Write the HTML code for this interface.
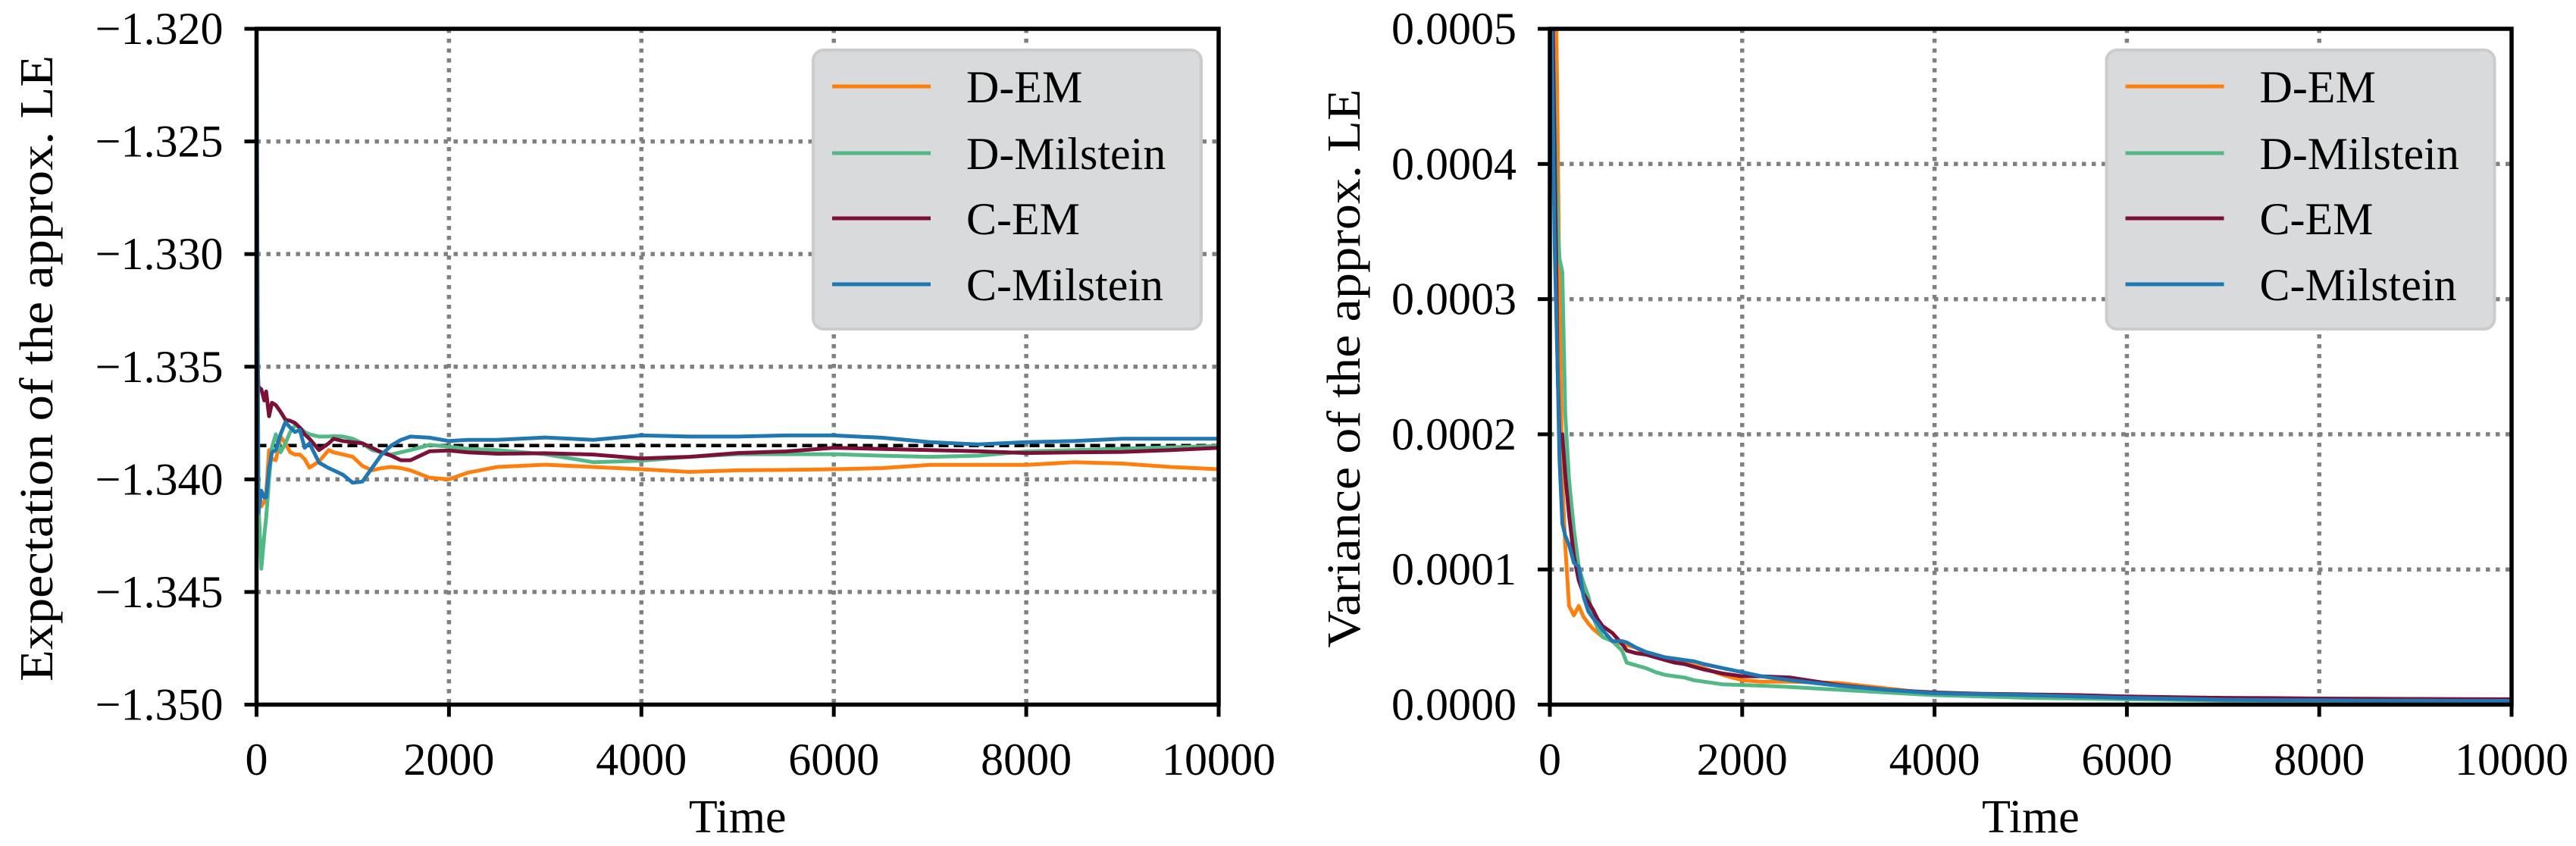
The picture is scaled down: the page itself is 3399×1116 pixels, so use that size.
<!DOCTYPE html>
<html><head><meta charset="utf-8"><style>
html,body{margin:0;padding:0;background:#fff;}
svg{display:block;font-family:"Liberation Serif",serif;}
</style></head><body>
<svg id="chart" width="3399" height="1116" viewBox="0 0 3399 1116" xmlns="http://www.w3.org/2000/svg"></svg>
<script>
const times = [0,20,50,80,100,130,160,200,250,300,350,400,450,500,550,650,750,800,900,1000,1100,1200,1300,1400,1500,1600,1800,2000,2200,2500,3000,3500,4000,4500,5000,5500,6000,6500,7000,7500,8000,8500,9000,9500,10000];
// expectation: thousandths below -1.320
const expDEM = [17,20.5,21.2,21,20.6,18.7,19.1,19.15,18.1,18.4,18.8,18.9,18.9,19.1,19.48,19.2,18.7,18.8,18.9,19.0,19.4,19.6,19.5,19.45,19.5,19.6,19.93,20.0,19.7,19.45,19.35,19.45,19.55,19.67,19.6,19.58,19.55,19.5,19.36,19.36,19.36,19.24,19.3,19.45,19.55];
const expDMil = [1,21,23.97,22.5,21.7,20.0,18.6,18.0,18.8,18.4,17.9,17.6,17.7,17.9,18.0,18.1,18.1,18.08,18.1,18.2,18.4,18.7,18.8,18.9,18.8,18.7,18.47,18.55,18.65,18.7,18.88,19.24,19.17,19.0,18.88,18.88,18.88,18.95,19.0,18.95,18.76,18.7,18.64,18.58,18.52];
const expCEM = [13,15.9,16.0,16.5,16.1,17.2,16.6,16.7,17.0,17.35,17.4,17.5,17.7,18.0,18.2,18.7,18.4,18.2,18.3,18.35,18.4,18.6,18.8,18.95,19.15,19.15,18.75,18.72,18.8,18.86,18.84,18.9,19.07,19.0,18.83,18.76,18.6,18.65,18.7,18.75,18.83,18.8,18.78,18.7,18.6];
const expCMil = [0,21.5,20.5,20.8,20.8,19.5,18.8,18.7,18.0,17.46,17.7,17.9,17.8,18.6,18.4,19.26,19.5,19.6,19.8,20.15,20.1,19.5,18.9,18.5,18.25,18.1,18.15,18.3,18.25,18.25,18.14,18.25,18.05,18.1,18.1,18.05,18.05,18.15,18.35,18.45,18.35,18.3,18.2,18.2,18.2];
const expRef = -1.3385;
// variance in units of 1e-4
const varDEM = [6,6,6,4.3,2.95,1.66,1.18,0.73,0.66,0.73,0.65,0.6,0.56,0.53,0.5,0.47,0.45,0.44,0.42,0.37,0.35,0.34,0.32,0.31,0.29,0.27,0.22,0.18,0.17,0.17,0.16,0.12,0.08,0.07,0.06,0.055,0.05,0.048,0.045,0.042,0.04,0.038,0.037,0.036,0.035];
const varDMil = [6,5.5,4.5,3.6,3.3,3.2,2.15,1.66,1.3,1.02,0.9,0.8,0.65,0.56,0.5,0.47,0.4,0.31,0.29,0.27,0.24,0.22,0.21,0.2,0.18,0.17,0.15,0.145,0.14,0.13,0.11,0.09,0.07,0.06,0.05,0.045,0.04,0.035,0.03,0.028,0.026,0.024,0.022,0.021,0.02];
const varCEM = [6,5.5,4.1,2.5,1.98,2.0,1.7,1.4,1.1,0.92,0.82,0.76,0.7,0.63,0.58,0.53,0.45,0.4,0.38,0.37,0.35,0.33,0.31,0.3,0.28,0.26,0.23,0.21,0.21,0.2,0.145,0.11,0.09,0.08,0.075,0.07,0.06,0.055,0.05,0.048,0.045,0.043,0.042,0.041,0.04];
const varCMil = [6,5.0,3.4,2.5,1.82,1.34,1.25,1.18,1.05,1.02,0.8,0.69,0.64,0.6,0.55,0.47,0.47,0.46,0.42,0.39,0.37,0.35,0.34,0.33,0.32,0.3,0.27,0.24,0.21,0.18,0.14,0.11,0.084,0.077,0.07,0.06,0.05,0.043,0.036,0.033,0.032,0.03,0.029,0.028,0.028];
const xTicks = [0,2000,4000,6000,8000,10000];
const xTickLabels = ["0","2000","4000","6000","8000","10000"];
const expTicks = [-1.350,-1.345,-1.340,-1.335,-1.330,-1.325,-1.320];
const expTickLabels = ["\u22121.350","\u22121.345","\u22121.340","\u22121.335","\u22121.330","\u22121.325","\u22121.320"];
const varTicks = [0,0.0001,0.0002,0.0003,0.0004,0.0005];
const varTickLabels = ["0.0000","0.0001","0.0002","0.0003","0.0004","0.0005"];
const seriesNames = ["D-EM","D-Milstein","C-EM","C-Milstein"];
const seriesColors = ["#ff7f0e","#52b886","#7b1038","#1f77b4"];

const NS="http://www.w3.org/2000/svg";
const svg=document.getElementById('chart');
function mk(tag,attrs,parent){const e=document.createElementNS(NS,tag);for(const k in attrs)e.setAttribute(k,attrs[k]);(parent||svg).appendChild(e);return e;}
const TOP=38, BOT=929.5;

function panel(key,left,right,ymin,ymax,yTicks,yLabels,series,yTitle,titleX,titleLen,refVal){
  const xs=t=>left+(t/10000)*(right-left);
  const ys=v=>BOT-(v-ymin)/(ymax-ymin)*(BOT-TOP);
  const g=mk('g',{});
  
  
  const clipId='clip-'+key;
  const cp=mk('clipPath',{id:clipId},g);
  mk('rect',{x:left,y:TOP,width:right-left,height:BOT-TOP},cp);
  // grid
  xTicks.forEach((t,i)=>{ if(i===0||i===xTicks.length-1) return;
    const l=mk('line',{x1:xs(t),x2:xs(t),y1:TOP,y2:BOT,stroke:'#808080','stroke-width':5.5,'stroke-dasharray':'5.5 7.5'},g);
    
    
  });
  yTicks.forEach((v,i)=>{ if(i===0||i===yTicks.length-1) return;
    const l=mk('line',{x1:left,x2:right,y1:ys(v),y2:ys(v),stroke:'#808080','stroke-width':5.5,'stroke-dasharray':'5.5 7.5'},g);
    
    
  });
  const pg=mk('g',{'clip-path':'url(#'+clipId+')'},g);
  if(refVal!==null){
    const r=mk('line',{x1:left,x2:right,y1:ys(refVal),y2:ys(refVal),stroke:'#000','stroke-width':4.5,'stroke-dasharray':'13 7'},pg);
    
    
  }
  series.forEach((vals,si)=>{
    const pts=times.map((t,i)=>xs(t).toFixed(1)+','+ys(vals[i]).toFixed(1)).join(' ');
    const p=mk('polyline',{points:pts,fill:'none',stroke:seriesColors[si],'stroke-width':5,'stroke-linejoin':'round'},pg);
    
    
  });
  // spines
  const sp=mk('rect',{x:left,y:TOP,width:right-left,height:BOT-TOP,fill:'none',stroke:'#000','stroke-width':5.5},g);
  
  
  // ticks
  xTicks.forEach((t,i)=>{
    mk('line',{x1:xs(t),x2:xs(t),y1:BOT,y2:BOT+16,stroke:'#000','stroke-width':5},g);
    const tx=mk('text',{x:xs(t),y:1022,'text-anchor':'middle','font-size':60},g);
    tx.textContent=xTickLabels[i];
    
    
  });
  yTicks.forEach((v,i)=>{
    mk('line',{x1:left-16,x2:left,y1:ys(v),y2:ys(v),stroke:'#000','stroke-width':5},g);
    const tx=mk('text',{x:left-44,y:ys(v)+20,'text-anchor':'end','font-size':60},g);
    tx.textContent=yLabels[i];
    
    
  });
  const xt=mk('text',{x:(left+right)/2,y:1098,'text-anchor':'middle','font-size':62},g);
  xt.textContent='Time';
  
  
  const yt=mk('text',{x:0,y:0,'text-anchor':'middle','dominant-baseline':'central','font-size':62,transform:'translate('+titleX+',486) rotate(-90)',textLength:titleLen,lengthAdjust:'spacingAndGlyphs'},g);
  yt.textContent=yTitle;
  
  
  // legend
  const lx=left+734.5;
  const lg=mk('g',{},g);
  
  
  mk('rect',{x:lx,y:66,width:512,height:368,rx:14,fill:'#d9dadb',stroke:'#cccccc','stroke-width':4},lg);
  const ly=[114,202,288,375];
  seriesNames.forEach((n,i)=>{
    const ent=mk('g',{},lg);
    
    
    mk('line',{x1:lx+25,x2:lx+155,y1:ly[i],y2:ly[i],stroke:seriesColors[i],'stroke-width':5},ent);
    const t=mk('text',{x:lx+202,y:ly[i]+21,'font-size':60},ent);
    t.textContent=n;
  });
}
panel('expectation',338.5,1608,-1.350,-1.320,expTicks,expTickLabels,
  [expDEM,expDMil,expCEM,expCMil].map(a=>a.map(v=>-1.320-v/1000)),
  'Expectation of the approx. LE',49,826,expRef);
panel('variance',2045,3314,0,0.0005,varTicks,varTickLabels,
  [varDEM,varDMil,varCEM,varCMil].map(a=>a.map(v=>v*1e-4)),
  'Variance of the approx. LE',1774,737,null);
</script>
</body></html>
